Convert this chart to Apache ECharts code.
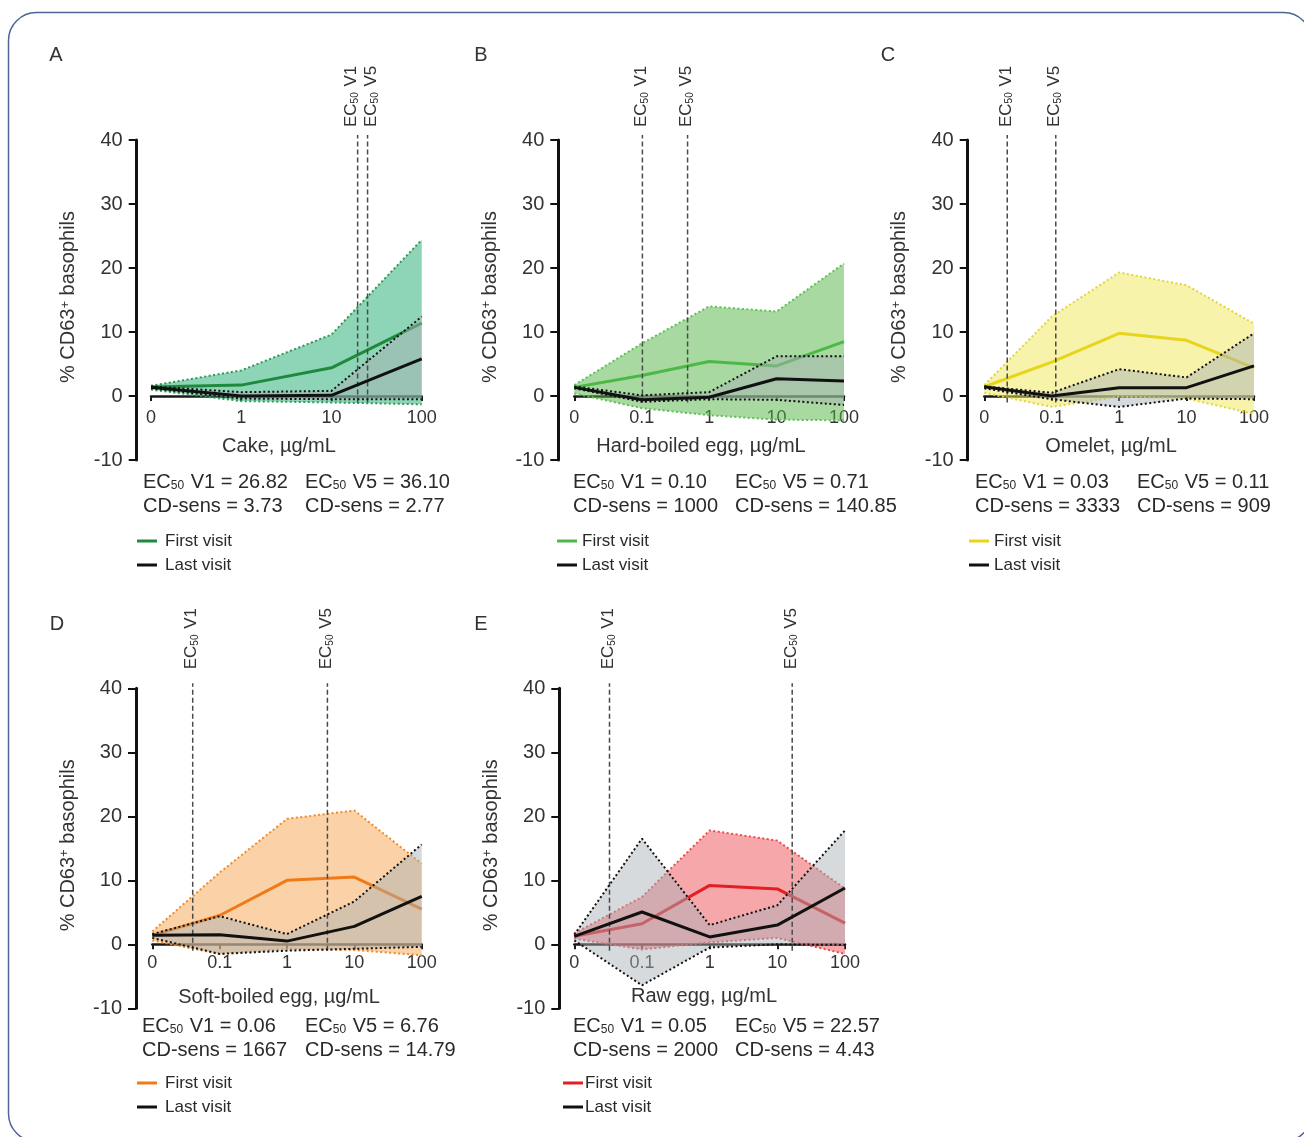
<!DOCTYPE html>
<html>
<head>
<meta charset="utf-8">
<script src="https://cdn.jsdelivr.net/npm/echarts@6/dist/echarts.min.js"></script>
<style>html,body{margin:0;padding:0;background:#fff}#c{width:1304px;height:1137px}</style>
</head>
<body>
<div id="c"></div>
<script>
// ---- categories (concentration, µg/mL) ----
const concCake = ['0', '1', '10', '100'];
const concEgg = ['0', '0.1', '1', '10', '100'];

// ---- A: Cake ----
const cakeFirst   = [1.4, 1.7, 4.4, 11.4];
const cakeFirstHi = [1.6, 4.0, 9.6, 24.4];
const cakeFirstLo = [1.0, -0.8, -1.0, -1.3];
const cakeLast    = [1.35, 0.0, 0.1, 5.8];
const cakeLastHi  = [1.5, 0.6, 0.8, 12.4];
const cakeLastLo  = [1.2, -0.4, -0.5, -0.5];

// ---- B: Hard-boiled egg ----
const hardFirst   = [1.35, 3.2, 5.4, 4.7, 8.5];
const hardFirstHi = [1.7, 8.2, 14.0, 13.2, 20.7];
const hardFirstLo = [0.4, -1.9, -3.0, -3.7, -3.8];
const hardLast    = [1.35, -0.6, -0.2, 2.7, 2.35];
const hardLastHi  = [1.5, 0.1, 0.6, 6.2, 6.2];
const hardLastLo  = [1.2, -0.9, -0.5, -0.6, -1.4];

// ---- C: Omelet ----
const omeletFirst   = [1.45, 5.3, 9.8, 8.7, 4.4];
const omeletFirstHi = [1.7, 12.4, 19.3, 17.3, 11.3];
const omeletFirstLo = [0.5, -1.7, -0.1, -0.4, -2.8];
const omeletLast    = [1.45, 0.0, 1.3, 1.3, 4.7];
const omeletLastHi  = [1.5, 0.5, 4.2, 2.9, 9.8];
const omeletLastLo  = [1.2, -0.5, -1.7, -0.4, -0.5];

// ---- D: Soft-boiled egg ----
const softFirst   = [1.4, 4.5, 10.0, 10.5, 5.5];
const softFirstHi = [2.0, 11.2, 19.6, 20.9, 12.6];
const softFirstLo = [0.6, -1.5, -0.7, -0.9, -1.7];
const softLast    = [1.4, 1.5, 0.5, 2.8, 7.5];
const softLastHi  = [1.6, 4.4, 1.6, 6.7, 15.6];
const softLastLo  = [1.0, -1.5, -1.0, -0.7, -0.4];

// ---- E: Raw egg ----
const rawFirst   = [1.25, 3.2, 9.2, 8.65, 3.3];
const rawFirstHi = [1.7, 7.4, 17.8, 16.2, 8.7];
const rawFirstLo = [0.9, -0.8, 0.3, 1.0, -1.5];
const rawLast    = [1.25, 5.05, 1.15, 3.0, 8.8];
const rawLastHi  = [1.5, 16.5, 3.0, 6.1, 17.8];
const rawLastLo  = [0.6, -6.4, -0.5, 0.0, -0.1];

// ---- texts ----
const panelLetters = ['A', 'B', 'C', 'D', 'E'];
const xNames = ['Cake, µg/mL', 'Hard-boiled egg, µg/mL', 'Omelet, µg/mL', 'Soft-boiled egg, µg/mL', 'Raw egg, µg/mL'];
const ec50V1 = ['26.82', '0.10', '0.03', '0.06', '0.05'];
const ec50V5 = ['36.10', '0.71', '0.11', '6.76', '22.57'];
const cdSensV1 = ['3.73', '1000', '3333', '1667', '2000'];
const cdSensV5 = ['2.77', '140.85', '909', '14.79', '4.43'];
// EC50 marker lines, in axis position units (as drawn in the figure)
const ec50LineV1 = [2.29, 1.01, 0.34, 0.60, 0.52];
const ec50LineV5 = [2.40, 1.68, 1.06, 2.60, 3.22];
const yTicks = { min: -10, max: 40, step: 10 };

// ---- styles / layout ----
const FS = "'Liberation Sans', Arial, sans-serif";
const GRAY_FILL = 'rgba(168,176,181,0.47)';
const panels = [
  { cats: concCake, f: cakeFirst, fh: cakeFirstHi, fl: cakeFirstLo, l: cakeLast, lh: cakeLastHi, ll: cakeLastLo, color: '#1f8a3e', dot: '#2a9a50', fill: 'rgba(30,170,110,0.5)' },
  { cats: concEgg, f: hardFirst, fh: hardFirstHi, fl: hardFirstLo, l: hardLast, lh: hardLastHi, ll: hardLastLo, color: '#4cb847', dot: '#5cc155', fill: 'rgba(80,180,65,0.5)' },
  { cats: concEgg, f: omeletFirst, fh: omeletFirstHi, fl: omeletFirstLo, l: omeletLast, lh: omeletLastHi, ll: omeletLastLo, color: '#e6d51c', dot: '#e2d53a', fill: 'rgba(240,232,85,0.5)' },
  { cats: concEgg, f: softFirst, fh: softFirstHi, fl: softFirstLo, l: softLast, lh: softLastHi, ll: softLastLo, color: '#f07a18', dot: '#f08a2a', fill: 'rgba(247,165,80,0.5)' },
  { cats: concEgg, f: rawFirst, fh: rawFirstHi, fl: rawFirstLo, l: rawLast, lh: rawLastHi, ll: rawLastLo, color: '#e31e24', dot: '#e84a50', fill: 'rgba(238,80,85,0.5)' }
];
const layout = [
  { x0: 151, x1: 421.7, top: 140, axisX: 136.7, lm: 13, letter: [56, 55], name: [279, 446.5], c1: 143, c2: 305, iy: [482, 506], sx: 137, tx: 165, ly: [541, 565], ecGap: 13, nudge: [-5, 5] },
  { x0: 574.3, x1: 844, top: 140, axisX: 558.3, lm: 13, letter: [481, 55], name: [701, 446.5], c1: 573, c2: 735, iy: [482, 506], sx: 557, tx: 582, ly: [541, 565], ecGap: 13, nudge: [0, 0] },
  { x0: 984.3, x1: 1254, top: 140, axisX: 967.7, lm: 13, letter: [888, 55], name: [1111, 446.5], c1: 975, c2: 1137, iy: [482, 506], sx: 969, tx: 994, ly: [541, 565], ecGap: 13, nudge: [0, 0] },
  { x0: 152.3, x1: 421.7, top: 688.3, axisX: 136, lm: 10, letter: [57, 624], name: [279, 997], c1: 142, c2: 305, iy: [1026, 1050], sx: 137, tx: 165, ly: [1083, 1107], ecGap: 19, nudge: [0, 0] },
  { x0: 574.3, x1: 845, top: 688.3, axisX: 559.3, lm: 10, letter: [481, 624], name: [704, 996.5], c1: 573, c2: 735, iy: [1026, 1050], sx: 563, tx: 585, ly: [1083, 1107], ecGap: 19, nudge: [0, 0] }
];
const GRID_H = 320;
// x axis sits on y = 0: distance from the grid bottom, in px
const X_AXIS_LIFT = GRID_H * (0 - yTicks.min) / (yTicks.max - yTicks.min);

const chart = echarts.init(document.getElementById('c'), null, { renderer: 'canvas', width: 1304, height: 1137 });

function pts(arr) { return arr.map((v, k) => [k, v]); }
function band(i, hi, lo, fill, z) {
  return {
    type: 'custom', xAxisIndex: i, yAxisIndex: i, z: z, silent: true, animation: false,
    data: pts(hi), encode: { x: 0, y: 1 },
    renderItem: function (params, api) {
      if (params.dataIndex !== 0) return null;
      const top = hi.map((v, k) => api.coord([k, v]));
      const bot = lo.map((v, k) => api.coord([k, v])).reverse();
      return { type: 'polygon', shape: { points: top.concat(bot) }, style: { fill: fill } };
    }
  };
}
function line(i, data, color, width, type, z, clip) {
  return {
    type: 'line', xAxisIndex: i, yAxisIndex: i, data: data, symbol: 'none', showSymbol: false,
    silent: true, animation: false, z: z, clip: clip !== false,
    lineStyle: { color: color, width: width, type: type }
  };
}

const grids = [], xAxes = [], yAxes = [], series = [];
panels.forEach((p, i) => {
  const g = layout[i];
  const n = p.cats.length;
  grids.push({ left: g.x0, top: g.top, width: g.x1 - g.x0, height: GRID_H, containLabel: false, outerBoundsMode: 'none' });
  xAxes.push({
    type: 'value', gridIndex: i, min: 0, max: n - 1, interval: 1, position: 'bottom', offset: -X_AXIS_LIFT,
    axisLine: { show: true, onZero: false, lineStyle: { color: '#1a1a1a', width: 2.5 } },
    axisTick: { show: true, length: 5, lineStyle: { color: '#1a1a1a', width: 2 } },
    axisLabel: { show: true, margin: g.lm, fontFamily: FS, fontSize: 18, color: '#333',
      formatter: v => { const s = p.cats[Math.round(v)]; return s === undefined ? '' : s; } },
    splitLine: { show: false }
  });
  yAxes.push({
    type: 'value', gridIndex: i, min: yTicks.min, max: yTicks.max, interval: yTicks.step, offset: g.x0 - g.axisX,
    axisLine: { show: true, onZero: false, lineStyle: { color: '#111', width: 3 } },
    axisTick: { show: true, length: 8, lineStyle: { color: '#111', width: 2 } },
    axisLabel: { margin: 14, fontFamily: FS, fontSize: 20, color: '#333' },
    splitLine: { show: false }
  });
  series.push(band(i, p.fh, p.fl, p.fill, 2));
  series.push(line(i, pts(p.fh), p.dot, 2, [2, 2.5], 3));
  series.push(line(i, pts(p.fl), p.dot, 2, [2, 2.5], 3));
  series.push(line(i, pts(p.f), p.color, 3, 'solid', 3));
  series.push(band(i, p.lh, p.ll, GRAY_FILL, 4));
  series.push(line(i, [[ec50LineV1[i], -1], [ec50LineV1[i], 40.8]], '#4a4a4a', 1.5, [5, 3], 5, false));
  series.push(line(i, [[ec50LineV5[i], -1], [ec50LineV5[i], 40.8]], '#4a4a4a', 1.5, [5, 3], 5, false));
  series.push(line(i, pts(p.lh), '#111', 2, [2, 2.5], 6));
  series.push(line(i, pts(p.ll), '#111', 2, [2, 2.5], 6));
  series.push(line(i, pts(p.l), '#111', 3, 'solid', 7));
});

chart.setOption({
  backgroundColor: '#fff',
  animation: false,
  grid: grids, xAxis: xAxes, yAxis: yAxes, series: series
});

// ---- text & decorations ----
function txt(x, y, text, o) {
  o = o || {};
  const st = {
    text: text, fill: o.color || '#2a2a2a', fontFamily: o.font || FS, fontSize: o.size || 20,
    align: o.align || 'left', textAlign: o.align || 'left',
    verticalAlign: 'middle', textVerticalAlign: 'middle'
  };
  if (o.rich) st.rich = o.rich;
  return { type: 'text', x: x, y: y, rotation: o.rot || 0, silent: true, z: 100, style: st };
}
const subRich = (size) => ({ s: { fontSize: size, fontFamily: FS, fill: '#2a2a2a', verticalAlign: 'bottom', padding: [0, 1, 0, 0] } });
const supRich = { p: { fontSize: 13, fontFamily: FS, fill: '#333', verticalAlign: 'top' } };

const graphics = [];
graphics.push({ type: 'rect', silent: true, z: 0, shape: { x: 8.5, y: 12.5, width: 1303, height: 1129, r: 28 },
  style: { fill: 'none', stroke: '#4f6596', lineWidth: 1.5 } });

panels.forEach((p, i) => {
  const g = layout[i];
  const y40 = chart.convertToPixel({ gridIndex: i }, [0, 40])[1];
  const yMid = chart.convertToPixel({ gridIndex: i }, [0, 15])[1];
  graphics.push(txt(g.letter[0], g.letter[1], panelLetters[i], { size: 20, align: 'center', color: '#333' }));
  // y axis name
  graphics.push(txt(g.axisX - 68, yMid - 3, '% CD63{p|+} basophils', { size: 20, align: 'center', rot: Math.PI / 2, rich: supRich, color: '#333' }));
  // x axis name
  graphics.push(txt(g.name[0], g.name[1], xNames[i], { size: 20, align: 'center', color: '#333' }));
  // EC50 labels above the marker lines
  [ec50LineV1[i], ec50LineV5[i]].forEach((pos, k) => {
    const px = chart.convertToPixel({ gridIndex: i }, [pos, 40])[0] + g.nudge[k];
    graphics.push(txt(px - 1, y40 - g.ecGap, 'EC{s|50} ' + (k === 0 ? 'V1' : 'V5'),
      { size: 17, rot: Math.PI / 2, rich: subRich(10), color: '#333' }));
  });
  // info lines
  graphics.push(txt(g.c1, g.iy[0], 'EC{s|50} V1 = ' + ec50V1[i], { rich: subRich(12) }));
  graphics.push(txt(g.c2, g.iy[0], 'EC{s|50} V5 = ' + ec50V5[i], { rich: subRich(12) }));
  graphics.push(txt(g.c1, g.iy[1], 'CD-sens = ' + cdSensV1[i]));
  graphics.push(txt(g.c2, g.iy[1], 'CD-sens = ' + cdSensV5[i]));
  // legend
  graphics.push({ type: 'line', silent: true, z: 100, shape: { x1: g.sx, y1: g.ly[0], x2: g.sx + 20, y2: g.ly[0] }, style: { stroke: p.color, lineWidth: 3 } });
  graphics.push({ type: 'line', silent: true, z: 100, shape: { x1: g.sx, y1: g.ly[1], x2: g.sx + 20, y2: g.ly[1] }, style: { stroke: '#111', lineWidth: 3 } });
  graphics.push(txt(g.tx, g.ly[0], 'First visit', { size: 17 }));
  graphics.push(txt(g.tx, g.ly[1], 'Last visit', { size: 17 }));
});

chart.setOption({ graphic: graphics });
</script>
</body>
</html>
